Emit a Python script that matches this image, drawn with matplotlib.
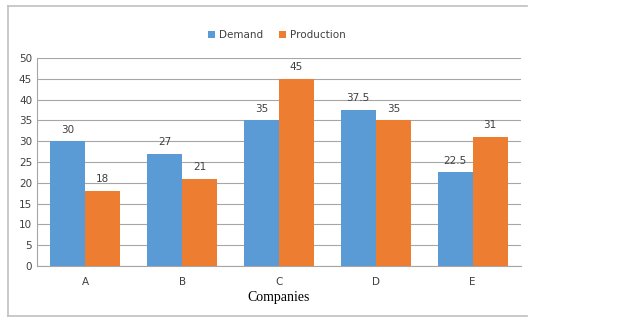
import matplotlib.pyplot as plt
from matplotlib.lines import Line2D
import numpy as np

companies = ['A', 'B', 'C', 'D', 'E']
demand = [30, 27, 35, 37.5, 22.5]
production = [18, 21, 45, 35, 31]
demand_labels = ['30', '27', '35', '37.5', '22.5']
production_labels = ['18', '21', '45', '35', '31']

W, H = 637, 326
fig = plt.figure(figsize=(W / 100, H / 100), dpi=100)

# outer chart frame (left, top and bottom edges only)
fx0, fx1 = 8 / W, 527 / W
fy0, fy1 = 1 - 316 / H, 1 - 6 / H
for xs, ys in [([fx0, fx1], [fy1, fy1]), ([fx0, fx1], [fy0, fy0]), ([fx0, fx0], [fy0, fy1])]:
    fig.lines.append(Line2D(xs, ys, transform=fig.transFigure, color='#c0c0c0', linewidth=1.2))

ax = fig.add_axes([37 / W, 1 - 266 / H, 484 / W, 208 / H])

x = np.arange(len(companies))
w = 0.362
b1 = ax.bar(x - w / 2, demand, w, color='#5b9bd5', label='Demand', zorder=3)
b2 = ax.bar(x + w / 2, production, w, color='#ed7d31', label='Production', zorder=3)

for rect, lab in zip(b1, demand_labels):
    ax.text(rect.get_x() + rect.get_width() / 2, rect.get_height() + 1.6, lab,
            ha='center', va='bottom', fontsize=7.5, color='#404040')
for rect, lab in zip(b2, production_labels):
    ax.text(rect.get_x() + rect.get_width() / 2, rect.get_height() + 1.6, lab,
            ha='center', va='bottom', fontsize=7.5, color='#404040')

ax.set_xlim(-0.5, len(companies) - 0.5)
ax.set_ylim(0, 50)
ax.set_yticks(range(0, 51, 5))
ax.set_xticks(x)
ax.set_xticklabels(companies)
ax.tick_params(axis='both', length=0, labelsize=7.5, colors='#404040')
ax.tick_params(axis='x', pad=8)
ax.yaxis.grid(True, color='#a6a6a6', linewidth=0.8, zorder=0)
for s in ['top', 'right']:
    ax.spines[s].set_visible(False)
ax.spines['left'].set_color('#a6a6a6')
ax.spines['bottom'].set_color('#a6a6a6')

ax.set_xlabel('Companies', family='Liberation Serif', fontsize=10, color='black', labelpad=3)

fig.legend(handles=[b1, b2], loc='center', bbox_to_anchor=(277 / W, 1 - 35 / H),
           ncol=2, frameon=False, fontsize=7.5, handlelength=0.7, handleheight=0.7,
           columnspacing=1.5, handletextpad=0.4, labelcolor='#404040')

fig.savefig('out.png', dpi=100)
